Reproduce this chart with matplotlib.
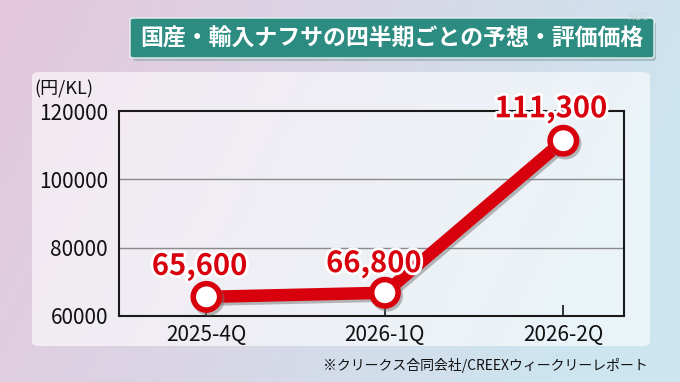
import matplotlib
matplotlib.use("Agg")
import matplotlib.pyplot as plt
import matplotlib.patheffects as pe
from matplotlib.patches import FancyBboxPatch
import numpy as np

plt.rcParams['font.family'] = ['Noto Sans CJK JP', 'DejaVu Sans']

categories = ['2025-4Q', '2026-1Q', '2026-2Q']
values = [65600, 66800, 111300]
labels = ['65,600', '66,800', '111,300']
yticks = [60000, 80000, 100000, 120000]
title = '国産・輸入ナフサの四半期ごとの予想・評価価格'
unit = '(円/KL)'
source = '※クリークス合同会社/CREEXウィークリーレポート'

W, H = 680, 382
fig = plt.figure(figsize=(W / 100, H / 100), dpi=100)


def fx(px):
    return px / W


def fy(py):
    return 1 - py / H


# background gradient, pink on the left, light blue on the right
bg = fig.add_axes([0, 0, 1, 1], zorder=-5)
gx = np.linspace(0, 1, 200)
gy = np.linspace(0, 1, 120)
GX, GY = np.meshgrid(gx, gy)
pink = np.array([0.90, 0.78, 0.86])
blue = np.array([0.80, 0.90, 0.94])
t = np.clip(GX * 0.9 + GY * 0.25, 0, 1)[..., None]
img = pink * (1 - t) + blue * t
bg.imshow(img, extent=[0, 1, 0, 1], aspect='auto', origin='upper')
bg.set_xlim(0, 1)
bg.set_ylim(0, 1)
bg.axis('off')

# translucent white panel, drawn inside the background axes
panel = FancyBboxPatch((fx(32), fy(346)), fx(650) - fx(32), fy(72) - fy(346),
                       boxstyle='round,pad=0,rounding_size=0.012',
                       facecolor='white', edgecolor='none', alpha=0.6)
bg.add_patch(panel)

# title box
shadow = FancyBboxPatch((fx(133), fy(61)), fx(656) - fx(133), fy(20) - fy(59),
                        boxstyle='round,pad=0,rounding_size=0.006',
                        facecolor='#7a9a98', edgecolor='none', alpha=0.5)
bg.add_patch(shadow)
box = FancyBboxPatch((fx(130), fy(58)), fx(654) - fx(130), fy(18) - fy(58),
                     boxstyle='round,pad=0,rounding_size=0.006',
                     facecolor='#2c8c82', edgecolor='#e8f0ee', linewidth=1)
bg.add_patch(box)
fig.text(fx(392), fy(39), title, ha='center', va='center', color='white',
         fontsize=16.5, fontweight='bold')
fig.text(fx(638), fy(17), 'NBC', ha='center', va='center', color='#c8d4d8',
         fontsize=7, alpha=0.8)

ax = fig.add_axes([fx(119), fy(316), fx(624) - fx(119), fy(111) - fy(316)])
ax.set_facecolor('none')
x = np.arange(len(categories))

ax.set_ylim(60000, 120000)
ax.set_xlim(-0.49, 2.34)
ax.set_yticks(yticks)
ax.set_yticklabels([str(v) for v in yticks])
ax.set_xticks(x)
ax.set_xticklabels(categories)
ax.tick_params(axis='y', length=0, labelsize=15, pad=8, colors='#111111')
ax.tick_params(axis='x', direction='in', length=8, width=1.2, labelsize=15,
               pad=6, colors='#111111')
for v in yticks[1:-1]:
    ax.axhline(v, color='#8a8a8a', linewidth=1, zorder=1)
for s in ax.spines.values():
    s.set_color('#1a1a1a')
    s.set_linewidth(1.5)

ax.plot(x, values, color='#d8000c', linewidth=9, solid_capstyle='round',
        marker='o', markersize=19, markerfacecolor='white',
        markeredgecolor='#d8000c', markeredgewidth=4, zorder=4,
        path_effects=[pe.SimpleLineShadow(offset=(1.5, -2), shadow_color='#777777', alpha=0.5),
                      pe.Normal()], clip_on=False)

label_offsets = [(-5, 22), (-8, 21), (-9, 23)]
for xi, v, lab, off in zip(x, values, labels, label_offsets):
    ax.annotate(lab, (xi, v), xytext=off, textcoords='offset points',
                ha='center', va='center', color='#d8000c', fontsize=21,
                fontweight='bold', zorder=5, annotation_clip=False,
                path_effects=[pe.withStroke(linewidth=4, foreground='white')])

fig.text(fx(64), fy(89), unit, ha='center', va='center', fontsize=13,
         color='#111111')
fig.text(fx(648), fy(365), source, ha='right', va='center', fontsize=10,
         color='#111111')

fig.savefig('out.png', dpi=100)
